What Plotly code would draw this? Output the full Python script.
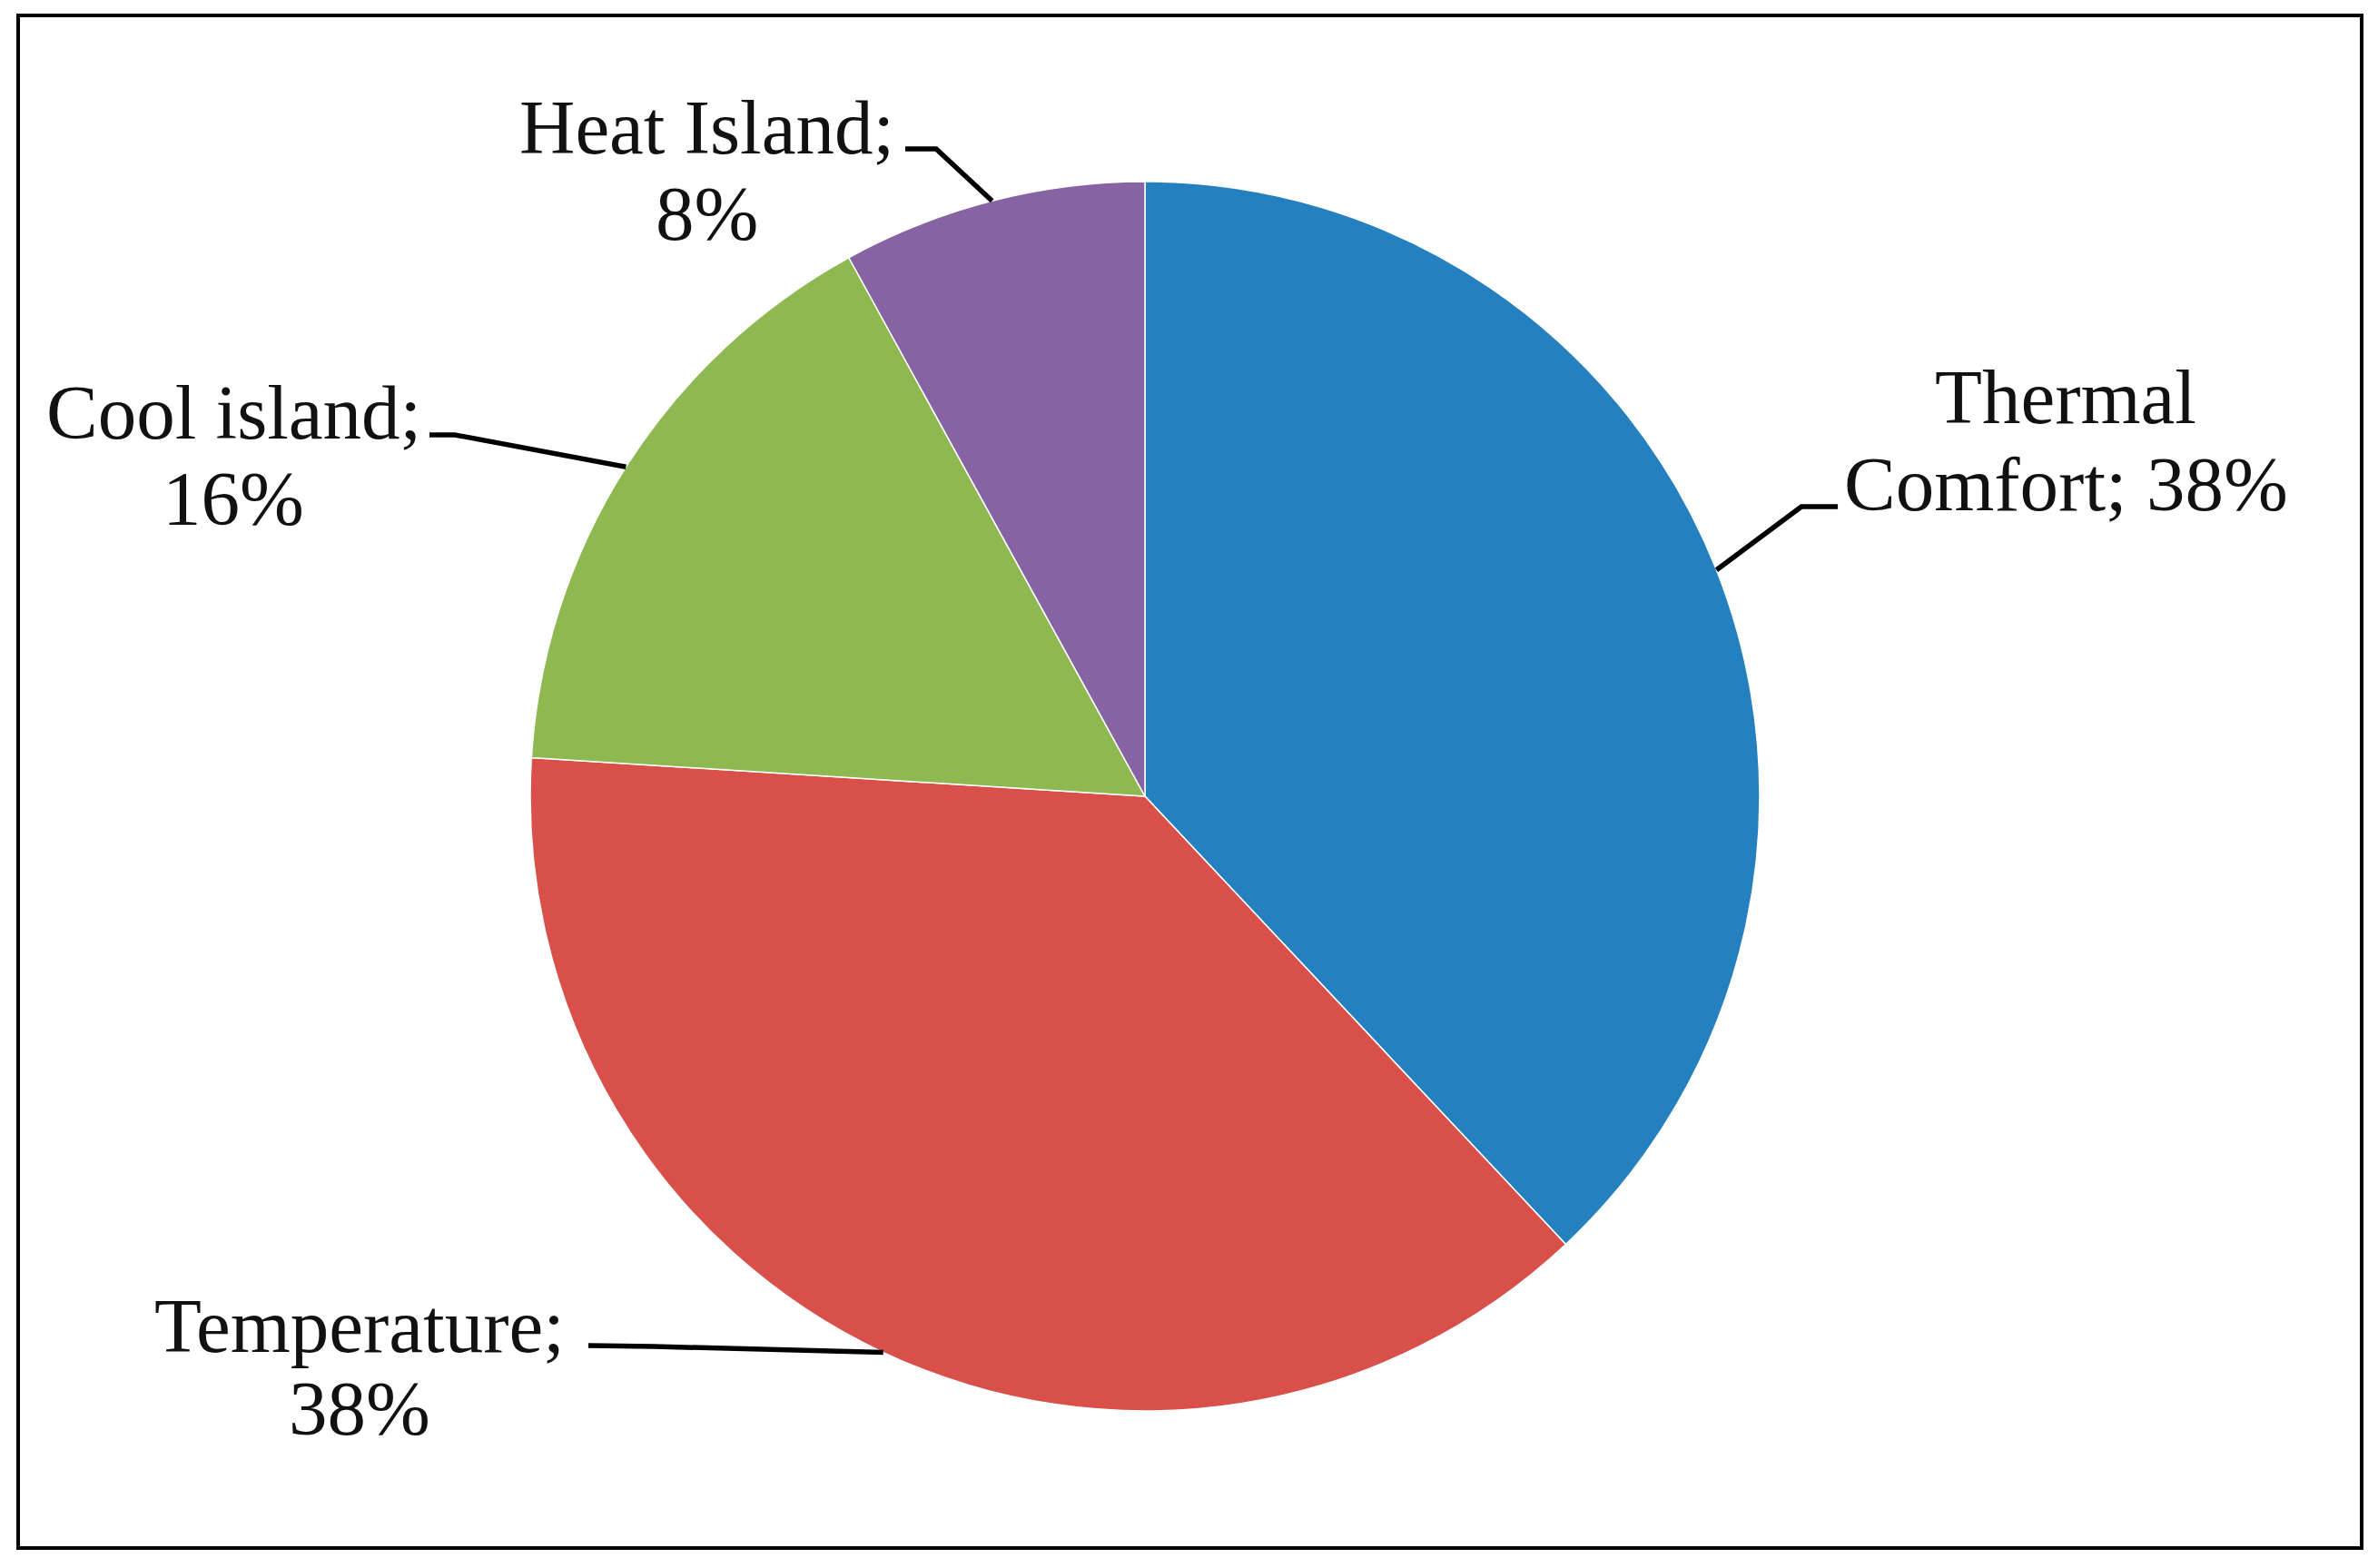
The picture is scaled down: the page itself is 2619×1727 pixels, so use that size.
import math
import plotly.graph_objects as go

# ---- data ----
categories = ["Thermal Comfort", "Temperature", "Cool island", "Heat Island"]
values = [38, 38, 16, 8]
colors = ["#2580C0", "#D9504B", "#8DB950", "#8863A4"]
label_line1 = ["Thermal", "Temperature;", "Cool island;", "Heat Island;"]
label_line2 = ["Comfort; 38%", "38%", "16%", "8%"]

W, H = 2619, 1727
OFF = 8  # page body margin offset (px)
FONT = dict(family="Liberation Serif, Times New Roman, serif", size=85, color="#111111")

# pie placement (page pixels)
CX, CY, R = 1261, 877, 677


def px(x):
    return (x - OFF) / W


def py(y):
    return 1 - (y - OFF) / H


dom_x = [px(CX - R), px(CX + R)]
dom_y = [py(CY + R), py(CY - R)]

fig = go.Figure(go.Pie(
    labels=categories, values=values, sort=False, direction="clockwise",
    rotation=0, textinfo="none", hoverinfo="label+percent",
    marker=dict(colors=colors, line=dict(color="white", width=1.5)),
    domain=dict(x=dom_x, y=dom_y), showlegend=False,
))

# label layout (page pixels): line center x, line baselines, text-end point, elbow point
label_pos = {
    "Thermal Comfort": dict(cx=2275, b1=464, b2=560, end=(2024, 558), elbow=(1984, 558)),
    "Temperature":     dict(cx=396, b1=1487, b2=1578, end=(648, 1482), elbow=(720, 1483)),
    "Cool island":     dict(cx=257, b1=481, b2=576, end=(473, 479), elbow=(501, 479)),
    "Heat Island":     dict(cx=778, b1=167, b2=262, end=(997, 164), elbow=(1031, 164)),
}

total = sum(values)
cum = 0.0
shapes = []
annotations = []
for cat, v, l1, l2 in zip(categories, values, label_line1, label_line2):
    mid = (cum + v / 2) / total * 2 * math.pi
    cum += v
    ax = CX + R * math.sin(mid)
    ay = CY - R * math.cos(mid)
    p = label_pos[cat]
    path = "M {} {} L {} {} L {} {}".format(
        px(p["end"][0]), py(p["end"][1]), px(p["elbow"][0]), py(p["elbow"][1]), px(ax), py(ay))
    shapes.append(dict(type="path", xref="paper", yref="paper", path=path,
                       line=dict(color="black", width=5.5)))
    for txt, b in ((l1, p["b1"]), (l2, p["b2"])):
        annotations.append(dict(text=txt, x=px(p["cx"]), y=py(b - 27), xref="paper", yref="paper",
                                xanchor="center", yanchor="middle", showarrow=False, font=FONT))

# outer frame
shapes.append(dict(type="rect", xref="paper", yref="paper", x0=px(20), y0=py(1705), x1=px(2601), y1=py(17),
                   line=dict(color="black", width=4), fillcolor="rgba(0,0,0,0)"))

fig.update_layout(
    width=W, height=H, margin=dict(l=0, r=0, t=0, b=0),
    paper_bgcolor="white", plot_bgcolor="white",
    shapes=shapes, annotations=annotations,
)
fig.write_html("out.html")
